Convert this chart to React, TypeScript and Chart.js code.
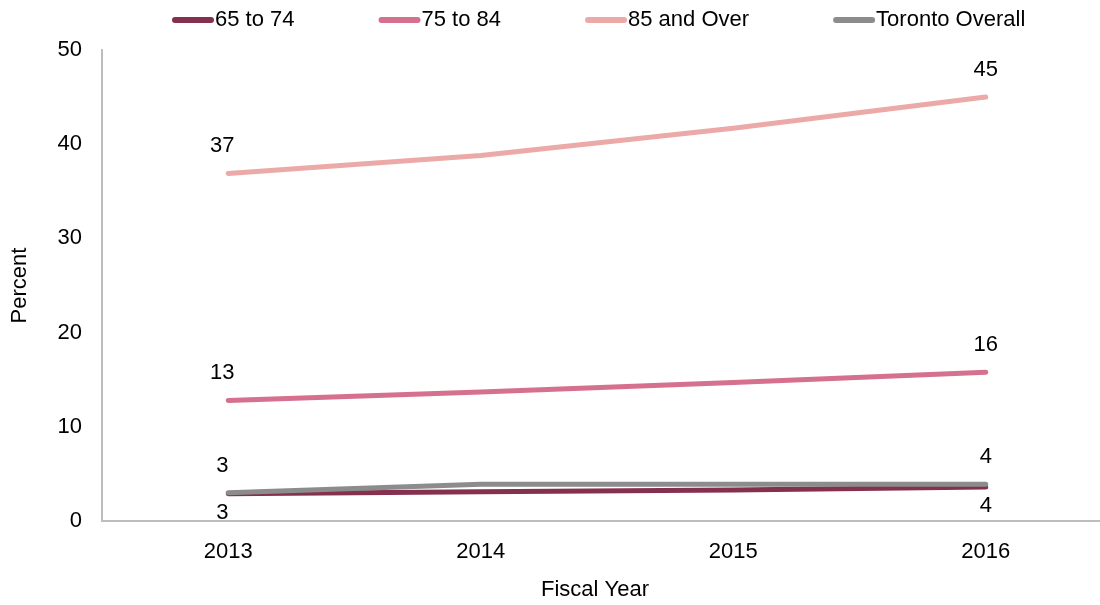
import React, { useEffect, useRef } from "react";
import { Chart, registerables } from "chart.js";

Chart.register(...registerables);

const YEARS = ["2013", "2014", "2015", "2016"];
const SERIES_NAMES = ["65 to 74", "75 to 84", "85 and Over", "Toronto Overall"];
const AGE_65_74 = [2.9, 3.1, 3.3, 3.6];
const AGE_75_84 = [12.8, 13.7, 14.7, 15.8];
const AGE_85_OVER = [36.9, 38.8, 41.7, 45.0];
const TORONTO_OVERALL = [3.0, 3.9, 3.9, 3.9];
const SERIES_COLORS = ["#86304F", "#D6708F", "#EBAAA7", "#8C8C8C"];
const LABEL_SIDE = ["below", "above", "above", "above"];
const Y_TICKS = [0, 10, 20, 30, 40, 50];
const Y_TITLE = "Percent";
const X_TITLE = "Fiscal Year";

const FONT = "'Liberation Sans', Arial, Helvetica, sans-serif";

const legendPlugin = {
  id: "customLegend",
  afterDraw(chart: any) {
    const ctx = chart.ctx;
    ctx.save();
    ctx.font = `22px ${FONT}`;
    ctx.textBaseline = "middle";
    ctx.textAlign = "left";
    const y = 20;
    const sample = 42;
    const gap = 84;
    let x = 172;
    chart.data.datasets.forEach((ds: any) => {
      ctx.strokeStyle = ds.borderColor;
      ctx.lineWidth = 6;
      ctx.lineCap = "round";
      ctx.beginPath();
      ctx.moveTo(x + 3, y);
      ctx.lineTo(x + sample - 3, y);
      ctx.stroke();
      ctx.fillStyle = "#000";
      ctx.fillText(ds.label, x + sample + 1, y);
      x += sample + 1 + ctx.measureText(ds.label).width + gap;
    });
    ctx.restore();
  },
};

const xTitlePlugin = {
  id: "xTitle",
  afterDraw(chart: any) {
    const ctx = chart.ctx;
    const area = chart.chartArea;
    ctx.save();
    ctx.font = `22px ${FONT}`;
    ctx.textBaseline = "middle";
    ctx.textAlign = "center";
    ctx.fillStyle = "#000";
    ctx.fillText(X_TITLE, (area.left + 1088) / 2, 590);
    ctx.restore();
  },
};

const dataLabelPlugin = {
  id: "endLabels",
  afterDatasetsDraw(chart: any) {
    const ctx = chart.ctx;
    ctx.save();
    ctx.font = `22px ${FONT}`;
    ctx.textAlign = "center";
    ctx.textBaseline = "middle";
    ctx.fillStyle = "#000";
    chart.data.datasets.forEach((ds: any, i: number) => {
      const meta = chart.getDatasetMeta(i);
      const last = ds.data.length - 1;
      [0, last].forEach((idx) => {
        const pt = meta.data[idx];
        const v = ds.data[idx];
        const dy = LABEL_SIDE[i] === "below" ? 19 : -27;
        const dx = idx === 0 ? -6 : 0;
        ctx.fillText(String(Math.round(v)), pt.x + dx, pt.y + dy);
      });
    });
    ctx.restore();
  },
};

export default function App() {
  const ref = useRef<HTMLCanvasElement | null>(null);

  useEffect(() => {
    if (!ref.current) return;
    const values = [AGE_65_74, AGE_75_84, AGE_85_OVER, TORONTO_OVERALL];
    const chart = new Chart(ref.current, {
      type: "line",
      data: {
        labels: YEARS,
        datasets: SERIES_NAMES.map((name, i) => ({
          label: name,
          data: values[i],
          borderColor: SERIES_COLORS[i],
          backgroundColor: SERIES_COLORS[i],
          borderWidth: 5,
          borderCapStyle: "round" as const,
          borderJoinStyle: "round" as const,
          pointRadius: 0,
          pointHoverRadius: 0,
          tension: 0,
          fill: false,
          order: i === 3 ? 0 : 1,
        })),
      },
      options: {
        responsive: false,
        animation: false,
        layout: { padding: { top: 50, left: 0, right: 0, bottom: 0 } },
        plugins: {
          legend: { display: false },
          tooltip: { enabled: false },
        },
        scales: {
          x: {
            type: "category",
            offset: true,
            grid: { display: false, drawTicks: false },
            border: { display: true, color: "#BDBDBD", width: 2 },
            ticks: {
              color: "#000",
              font: { family: FONT, size: 22 },
              padding: 18,
              maxRotation: 0,
            },
            title: { display: false, text: X_TITLE },
            afterFit: (scale: any) => {
              scale.height = 84;
            },
          },
          y: {
            min: Y_TICKS[0],
            max: Y_TICKS[Y_TICKS.length - 1],
            grid: { display: false, drawTicks: false },
            border: { display: true, color: "#BDBDBD", width: 2 },
            afterBuildTicks: (scale: any) => {
              scale.ticks = Y_TICKS.map((v) => ({ value: v }));
            },
            ticks: {
              color: "#000",
              font: { family: FONT, size: 22 },
              padding: 20,
            },
            title: {
              display: true,
              text: Y_TITLE,
              color: "#000",
              font: { family: FONT, size: 22 },
              padding: { top: 7, bottom: 0 },
            },
            afterFit: (scale: any) => {
              scale.width = 102;
            },
          },
        },
      },
      plugins: [legendPlugin, xTitlePlugin, dataLabelPlugin],
    });
    return () => chart.destroy();
  }, []);

  return (
    <div
      style={{
        position: "absolute",
        left: 0,
        top: 0,
        width: 1100,
        height: 605,
        overflow: "hidden",
        background: "#fff",
      }}
    >
      <canvas ref={ref} width={1112} height={605} style={{ width: 1112, height: 605 }} />
    </div>
  );
}
